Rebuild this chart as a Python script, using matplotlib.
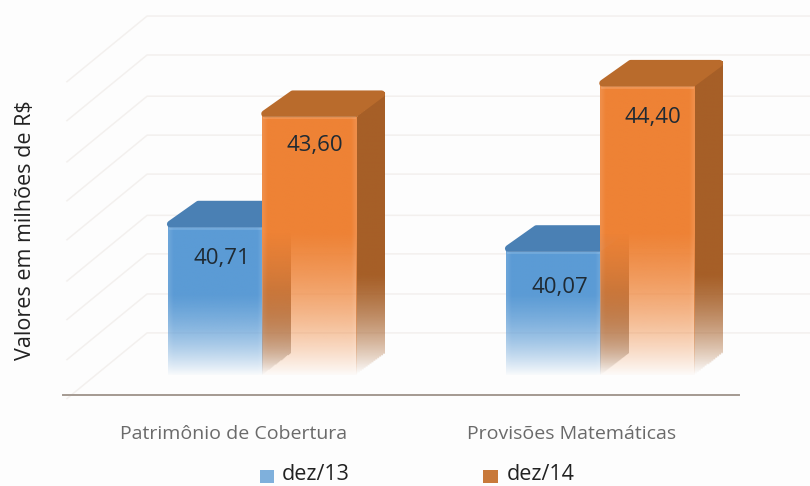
import numpy as np
import matplotlib
matplotlib.use('Agg')
import matplotlib.pyplot as plt
from matplotlib.colors import to_rgb
from matplotlib.patches import Polygon, Rectangle

plt.rcParams['font.family'] = ['Open Sans', 'DejaVu Sans']

# data
categories = ['Patrimônio de Cobertura', 'Provisões Matemáticas']
series_names = ['dez/13', 'dez/14']
dez13 = [40.71, 40.07]
dez14 = [43.60, 44.40]
value_labels13 = ['40,71', '40,07']
value_labels14 = ['43,60', '44,40']
grid_levels = [37.91, 38.93, 39.98, 40.99, 42.07, 43.09, 44.11, 45.19, 46.21]
y_title = 'Valores em milhões de R$'

base = 36.81
bar_w = 0.279
dep_x = 0.083
dep_y = 0.62

fig = plt.figure(figsize=(8.1, 4.86), dpi=100, facecolor='#fdfdfd')
ax = fig.add_axes([0, 0, 1, 1])
ax.axis('off')


def fade(vals, fade_from):
    # mostly linear, eased where the fade starts
    t = np.clip((vals - base) / (fade_from - base), 0, 1)
    return t * (1 + 0.6 * (1 - t)) * (1 - 0.25 * t) + 0.25 * t ** 2


def draw_grad(x0, x1, top, color, fade_from, z, alpha_low=0.03):
    vals = np.linspace(top, base, 200)
    a = alpha_low + (1 - alpha_low) * fade(vals, fade_from)
    img = np.zeros((200, 40, 4))
    # lighter bevel on both edges of the front face
    xs = np.linspace(0, 1, 40)
    bevel = np.clip(1 - np.minimum(xs, 1 - xs) / 0.05, 0, 1)[None, :, None] * 0.1
    img[:, :, :3] = np.array(to_rgb(color))[None, None, :] * (1 - bevel) + bevel
    img[:, :, 3] = a[:, None]
    ax.imshow(img, extent=[x0, x1, base, top], aspect='auto', zorder=z, interpolation='bilinear')


def draw_bar(x0, val, front, side, topc, fade_from, side_from, z):
    x1 = x0 + bar_w
    # side face
    vals = np.linspace(val + dep_y, base, 200)
    a = fade(vals, side_from)
    img = np.zeros((200, 30, 4))
    img[:, :, :3] = to_rgb(side)
    xs = np.linspace(0, 1, 30)
    for i, v in enumerate(vals):
        lim = val + dep_y * xs
        img[i, :, 3] = a[i] * (v <= lim) * (v >= base + dep_y * xs * 0.9)
    ax.imshow(img, extent=[x1, x1 + dep_x, base, val + dep_y], aspect='auto', zorder=z, interpolation='bilinear')
    draw_grad(x0, x1, val, front, fade_from, z + 1)
    ix, iy = 0.008, 0.05
    ax.add_patch(Polygon([(x0 + ix, val + iy), (x1 - ix / 2, val + iy), (x1 + dep_x - ix, val + dep_y - iy),
                          (x0 + dep_x + ix, val + dep_y - iy)],
                         closed=True, facecolor=topc, edgecolor=topc, lw=5, joinstyle='round', zorder=z + 2))
    ax.plot([x0 + 0.006, x1 - 0.006], [val - 0.04, val - 0.04], color='white', alpha=0.15, lw=2, zorder=z + 3)


# gridlines with the wall diagonals
for g in grid_levels:
    ax.plot([-0.577, -0.34, 1.62], [g - 1.72, g, g], color='#f3f0ee', lw=1.1, zorder=1)

label_drop13 = [0.84, 0.97]
label_drop14 = [0.78, 0.84]
x_pos = np.arange(len(categories))
for i, x in enumerate(x_pos):
    draw_bar(x - bar_w, dez13[i], '#5b9bd5', '#6f5a48', '#4a80b4', 38.9, 39.0, 3)
    draw_bar(x, dez14[i], '#ee8235', '#a65f27', '#b96b2c', 40.5, 39.4, 7)
    ax.text(x - 0.118, dez13[i] - label_drop13[i], value_labels13[i], ha='center', va='center',
            fontsize=16, color='#1f2a33', zorder=12)
    ax.text(x + 0.157, dez14[i] - label_drop14[i], value_labels14[i], ha='center', va='center',
            fontsize=16, color='#1f2a33', zorder=12)
    ax.text(x - 0.085, 35.27, categories[i], ha='center', va='center', fontsize=14, color='#6a6a6a', zorder=12)

# base line
ax.plot([-0.59, 1.41], [36.29, 36.29], color='#a49a92', lw=1.4, zorder=2)

ax.text(-0.70, 40.6, y_title, rotation=90, ha='center', va='center', fontsize=15.5, color='#222222')

# legend
ax.add_patch(Rectangle((-0.006, 33.98), 0.042, 0.34, facecolor='#7fb0dc', edgecolor='none'))
ax.text(0.059, 34.2, series_names[0], ha='left', va='center', fontsize=15.5, color='#222222')
ax.add_patch(Rectangle((0.654, 33.98), 0.044, 0.34, facecolor='#c8793a', edgecolor='none'))
ax.text(0.725, 34.2, series_names[1], ha='left', va='center', fontsize=15.5, color='#222222')

ax.set_xlim(-262 / 338, 548 / 338)
ax.set_ylim(33.90, 46.63)

fig.savefig('out.png', dpi=100, facecolor=fig.get_facecolor())
